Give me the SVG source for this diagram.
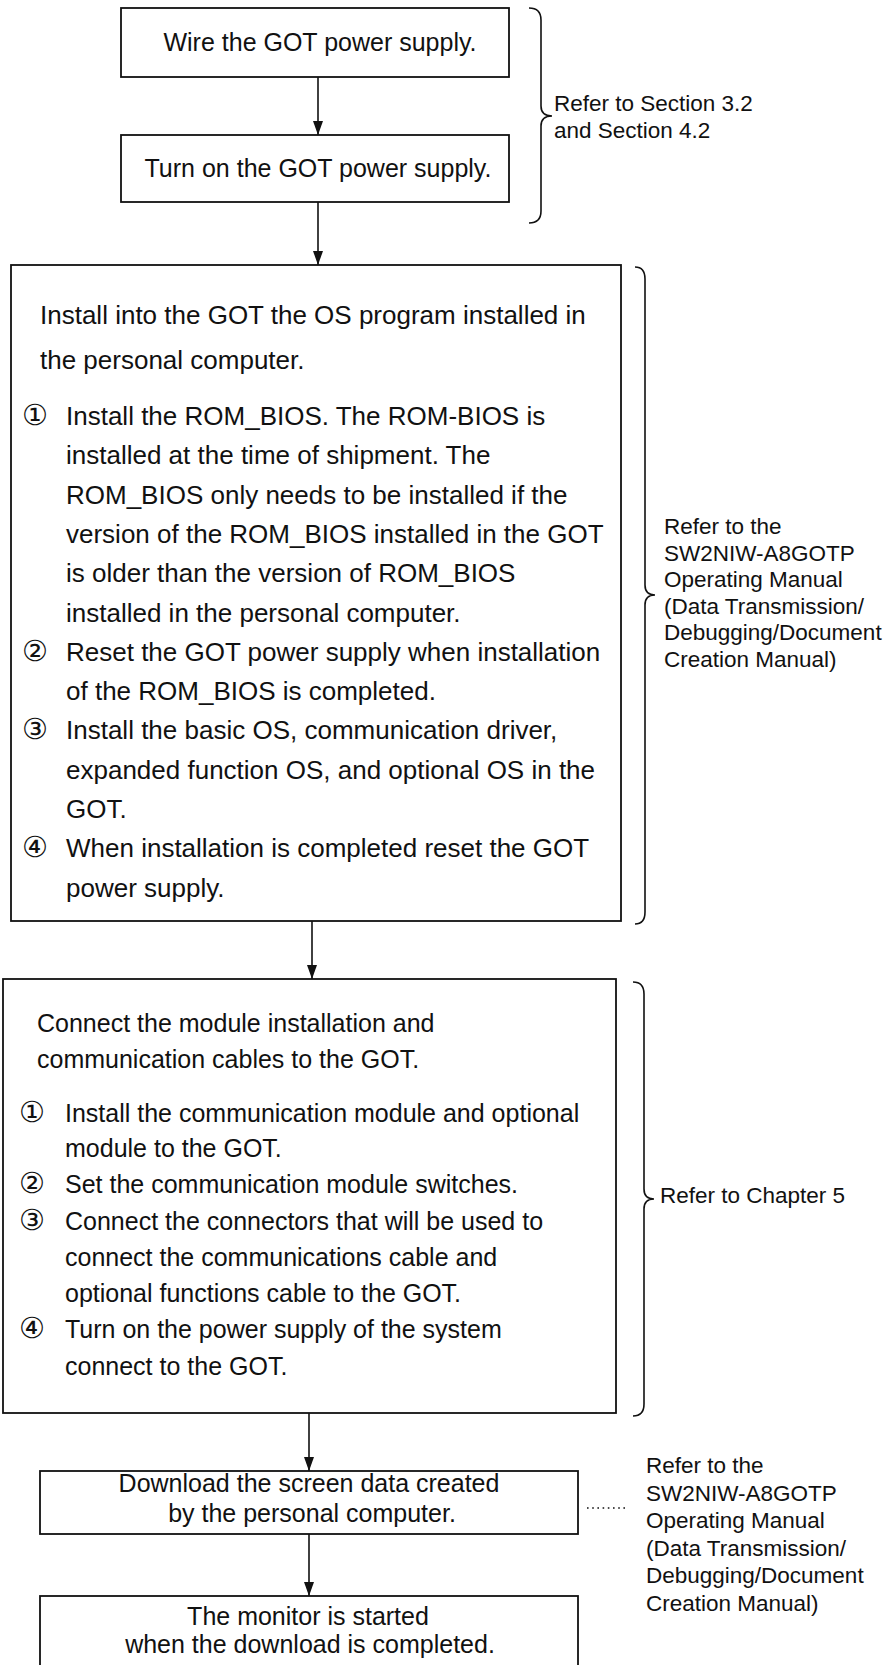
<svg xmlns="http://www.w3.org/2000/svg" width="888" height="1665" viewBox="0 0 888 1665">
<style>
.box{fill:#fff;stroke:#111;stroke-width:1.8}
.t{font-family:"Liberation Sans",Arial,"DejaVu Sans",sans-serif;font-size:25px;fill:#111}
.tb{font-family:"Liberation Sans",Arial,"DejaVu Sans",sans-serif;font-size:26px;fill:#111}
.c{font-family:"DejaVu Sans",sans-serif;font-size:29px;fill:#111}
.r{font-family:"Liberation Sans",Arial,sans-serif;font-size:22.5px;fill:#111}
.m{text-anchor:middle}
.conn{stroke:#111;stroke-width:1.6;fill:none}
.brace{stroke:#111;stroke-width:1.6;fill:none}
</style>
<defs>
<marker id="ah" markerUnits="userSpaceOnUse" markerWidth="14" markerHeight="10" refX="14" refY="5" orient="auto">
<path d="M0,0 L14,5 L0,10 z" fill="#111"/>
</marker>
</defs>
<rect width="888" height="1665" fill="#fff"/>

<g id="connectors">
<line class="conn" x1="318" y1="77" x2="318" y2="135" marker-end="url(#ah)"/>
<line class="conn" x1="318" y1="202" x2="318" y2="265" marker-end="url(#ah)"/>
<line class="conn" x1="312" y1="921" x2="312" y2="979" marker-end="url(#ah)"/>
<line class="conn" x1="309" y1="1413" x2="309" y2="1471" marker-end="url(#ah)"/>
<line class="conn" x1="309" y1="1534" x2="309" y2="1596" marker-end="url(#ah)"/>
<line class="conn" x1="587" y1="1508" x2="628" y2="1508" stroke-width="1.8" stroke-dasharray="1.6 3.6"/>
</g>

<g id="n1">
<rect class="box" x="121" y="8" width="388" height="69"/>
<text class="t m" x="320" y="51">Wire the GOT power supply.</text>
</g>

<g id="n2">
<rect class="box" x="121" y="135" width="388" height="67"/>
<text class="t m" x="318" y="177">Turn on the GOT power supply.</text>
</g>

<g id="n3">
<rect class="box" x="11" y="265" width="610" height="656"/>
<text class="tb" x="40" y="324">Install into the GOT the OS program installed in</text>
<text class="tb" x="40" y="369">the personal computer.</text>
<text class="c" x="22" y="425">①</text>
<text class="tb" x="66" y="425">Install the ROM_BIOS. The ROM-BIOS is</text>
<text class="tb" x="66" y="464.3">installed at the time of shipment. The</text>
<text class="tb" x="66" y="503.6">ROM_BIOS only needs to be installed if the</text>
<text class="tb" x="66" y="542.9">version of the ROM_BIOS installed in the GOT</text>
<text class="tb" x="66" y="582.2">is older than the version of ROM_BIOS</text>
<text class="tb" x="66" y="621.5">installed in the personal computer.</text>
<text class="c" x="22" y="660.8">②</text>
<text class="tb" x="66" y="660.8">Reset the GOT power supply when installation</text>
<text class="tb" x="66" y="700.1">of the ROM_BIOS is completed.</text>
<text class="c" x="22" y="739.4">③</text>
<text class="tb" x="66" y="739.4">Install the basic OS, communication driver,</text>
<text class="tb" x="66" y="778.7">expanded function OS, and optional OS in the</text>
<text class="tb" x="66" y="818">GOT.</text>
<text class="c" x="22" y="857.3">④</text>
<text class="tb" x="66" y="857.3">When installation is completed reset the GOT</text>
<text class="tb" x="66" y="896.6">power supply.</text>
</g>

<g id="n4">
<rect class="box" x="3" y="979" width="613" height="434"/>
<text class="t" x="37" y="1032">Connect the module installation and</text>
<text class="t" x="37" y="1068">communication cables to the GOT.</text>
<text class="c" x="19" y="1122">①</text>
<text class="t" x="65" y="1122">Install the communication module and optional</text>
<text class="t" x="65" y="1157">module to the GOT.</text>
<text class="c" x="19" y="1193">②</text>
<text class="t" x="65" y="1193">Set the communication module switches.</text>
<text class="c" x="19" y="1230">③</text>
<text class="t" x="65" y="1230">Connect the connectors that will be used to</text>
<text class="t" x="65" y="1266">connect the communications cable and</text>
<text class="t" x="65" y="1302">optional functions cable to the GOT.</text>
<text class="c" x="19" y="1338">④</text>
<text class="t" x="65" y="1338">Turn on the power supply of the system</text>
<text class="t" x="65" y="1375">connect to the GOT.</text>
</g>

<g id="n5">
<rect class="box" x="40" y="1471" width="538" height="63"/>
<text class="t m" x="309" y="1492">Download the screen data created</text>
<text class="t m" x="312" y="1522">by the personal computer.</text>
</g>

<g id="n6">
<rect class="box" x="40" y="1596" width="538" height="90"/>
<text class="t m" x="308" y="1625">The monitor is started</text>
<text class="t m" x="310" y="1653">when the download is completed.</text>
</g>

<g id="ref1">
<path class="brace" d="M529,8 Q541,8 541,20 L541,106 Q541,116 552,116 Q541,116 541,126 L541,211 Q541,223 529,223"/>
<text class="r" x="554" y="111">Refer to Section 3.2</text>
<text class="r" x="554" y="138">and Section 4.2</text>
</g>

<g id="ref2">
<path class="brace" d="M635,267 Q645,267 645,279 L645,585 Q645,595 655,595 Q645,595 645,605 L645,912 Q645,924 635,924"/>
<text class="r" x="664" y="534">Refer to the</text>
<text class="r" x="664" y="560.5">SW2NIW-A8GOTP</text>
<text class="r" x="664" y="587">Operating Manual</text>
<text class="r" x="664" y="613.5">(Data Transmission/</text>
<text class="r" x="664" y="640">Debugging/Document</text>
<text class="r" x="664" y="666.5">Creation Manual)</text>
</g>

<g id="ref3">
<path class="brace" d="M633,982 Q644,982 644,994 L644,1189 Q644,1199 654,1199 Q644,1199 644,1209 L644,1404 Q644,1416 633,1416"/>
<text class="r" x="660" y="1203">Refer to Chapter 5</text>
</g>

<g id="ref4">
<text class="r" x="646" y="1473">Refer to the</text>
<text class="r" x="646" y="1500.5">SW2NIW-A8GOTP</text>
<text class="r" x="646" y="1528">Operating Manual</text>
<text class="r" x="646" y="1555.5">(Data Transmission/</text>
<text class="r" x="646" y="1583">Debugging/Document</text>
<text class="r" x="646" y="1610.5">Creation Manual)</text>
</g>
</svg>
